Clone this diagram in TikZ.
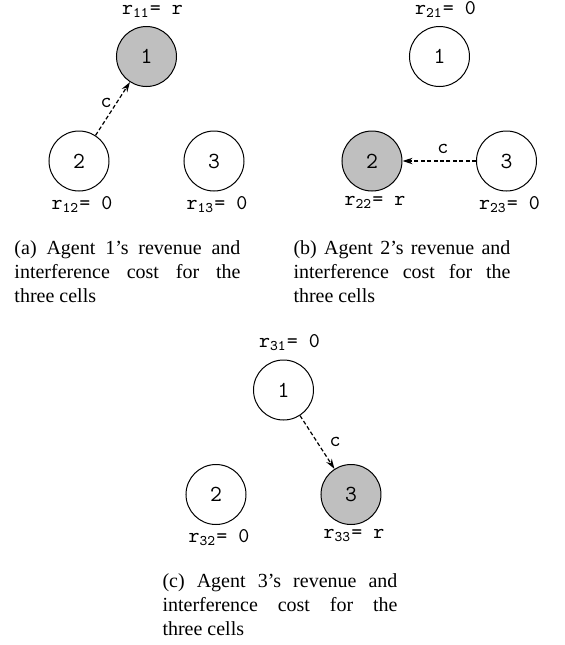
\documentclass[tikz,border=0pt]{standalone}
\usepackage{fontspec}
\setmainfont{Liberation Serif}
\usetikzlibrary{arrows.meta}
\definecolor{cellgray}{RGB}{191,191,191}
\newcommand{\rlab}[2]{{\ttfamily\fontsize{10.5}{12}\selectfont r\textsubscript{#1}= #2}}

\begin{document}
\begin{tikzpicture}[x=0.5pt,y=-0.5pt,line width=0.5pt,>={Stealth[length=5pt,width=3.2pt]},
  cell/.style={circle,draw,minimum size=30pt,inner sep=0pt,font=\ttfamily\fontsize{11.5}{13}\selectfont},
  busy/.style={cell,fill=cellgray},
  toplab/.style={label={[xshift=3pt,yshift=2pt,inner sep=2pt]above:#1}},
  botlab/.style={label={[xshift=1.5pt,inner sep=2pt]below:#1}},
  cost/.style={->,dash pattern=on 2pt off 1.2pt,line width=0.6pt},
  costlab/.style={font=\ttfamily\fontsize{10.5}{12}\selectfont},
  capt/.style={anchor=north west,inner sep=0pt,align=justify,font=\fontsize{10}{12}\selectfont}]
  \useasboundingbox (0,0) rectangle (565,645);
  \node[busy,toplab=\rlab{11}{r}] (a1) at (146.5,56.5) {1};
  \node[cell,botlab=\rlab{12}{0}] (a2) at (79,161) {2};
  \node[cell,botlab=\rlab{13}{0}] (a3) at (214,161) {3};
  \draw[cost] (a2) -- node[pos=0.6,left,inner sep=2pt,costlab]{c} (a1);
  \node[capt,text width=113pt] (capa) at (14,240)
    {(a) Agent 1's revenue and\linebreak interference cost for the\linebreak three cells};

  \node[cell,toplab=\rlab{21}{0}] (b1) at (439.5,56.5) {1};
  \node[busy,botlab=\rlab{22}{r}] (b2) at (372,161) {2};
  \node[cell,botlab=\rlab{23}{0}] (b3) at (506.5,161) {3};
  \draw[cost] (b3) -- node[pos=0.45,above,costlab]{c} (b2);
  \node[capt,text width=108.5pt] (capb) at (293,240)
    {(b) Agent 2's revenue and\linebreak interference cost for the\linebreak three cells};

  \node[cell,toplab=\rlab{31}{0}] (c1) at (283.5,390) {1};
  \node[cell,botlab=\rlab{32}{0}] (c2) at (216,494.5) {2};
  \node[busy,botlab=\rlab{33}{r}] (c3) at (351,494.5) {3};
  \draw[cost] (c1) -- node[midway,right=2.5pt,costlab]{c} (c3);
  \node[capt,text width=117.5pt] (capc) at (162,573)
    {(c) Agent 3's revenue and\linebreak interference cost for the\linebreak three cells};
\end{tikzpicture}
\end{document}
